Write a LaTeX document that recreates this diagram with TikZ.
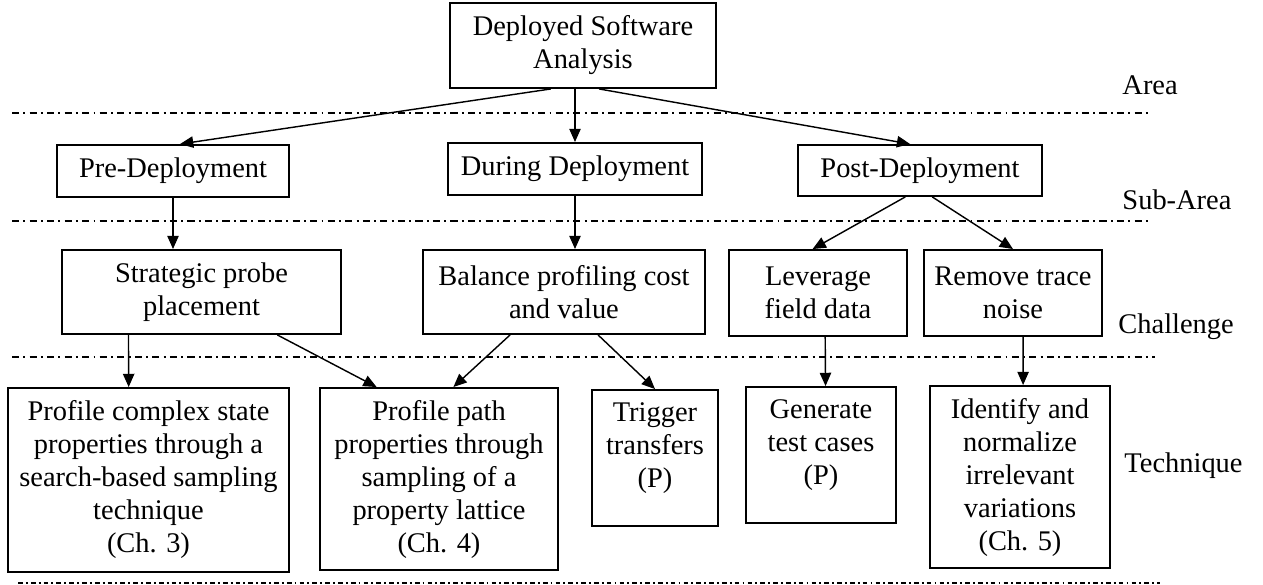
\documentclass[tikz,border=0pt]{standalone}
\usepackage{fontspec}
\setmainfont{Liberation Serif}
\usetikzlibrary{arrows.meta, calc}
\tikzset{
  boxsize/.style 2 args={minimum width=#1*0.4219pt, minimum height=#2*0.4219pt},
  box/.style={rectangle, draw, line width=0.8pt, align=center, inner sep=0pt,
              font=\fontsize{12}{13.9}\selectfont},
  techtxt/.style={anchor=north, align=center, inner sep=4pt, yshift=-1.5pt,
                  font=\fontsize{12}{13.9}\selectfont},
  tier/.style={anchor=west, inner sep=0pt, font=\fontsize{12}{13.9}\selectfont},
  conn/.style={-{Triangle[length=5.6pt,width=4.8pt]}, line width=0.6pt},
  level/.style={line width=0.65pt, dash pattern=on 3pt off 1.8pt on 0.8pt off 1.8pt},
  levelend/.style={line width=0.65pt, dash pattern=on 2pt off 1.3pt on 0.8pt off 1.3pt},
}
\begin{document}
\begin{tikzpicture}[x=0.4219pt, y=-0.4219pt]
  \useasboundingbox (0,0) rectangle (1263,585);

  % level separators
  \draw[level]    (12,113) -- (1150,113);
  \draw[level]    (12,221) -- (1150,221);
  \draw[level]    (12,357) -- (1155,357);
  \draw[levelend] (18,583) -- (1160,583);

  % tier names
  \node[tier] (area)  at (1122,85)  {Area};
  \node[tier] (sub)   at (1122,200) {Sub-Area};
  \node[tier] (chal)  at (1118,327) {Challenge};
  \node[tier] (tech)  at (1124,466) {Technique};

  % area
  \node[box, boxsize={266}{85}] (top) at (583,45.5) {Deployed Software\\Analysis};

  % sub-areas
  \node[box, boxsize={232}{52}] (pre)    at (173,171)   {Pre-Deployment};
  \node[box, boxsize={254}{52}] (during) at (575,169)   {During Deployment};
  \node[box, boxsize={244}{51}] (post)   at (920,170.5) {Post-Deployment};

  % challenges
  \node[box, boxsize={279}{84}] (probe) at (201.5,292) {Strategic probe\\placement};
  \node[box, boxsize={282}{84}] (cost)  at (564,292)   {Balance profiling cost\\and value};
  \node[box, boxsize={178}{86}] (field) at (818,293)   {Leverage\\field data};
  \node[box, boxsize={178}{86}] (noise) at (1013,293)  {Remove trace\\noise};

  % techniques
  \node[box, boxsize={281}{184}, label={[techtxt]north:{Profile complex state\\properties through a\\search-based sampling\\technique\\(Ch. 3)}}] (state) at (148.5,480) {};
  \node[box, boxsize={238}{182}, label={[techtxt]north:{Profile path\\properties through\\sampling of a\\property lattice\\(Ch. 4)}}] (path) at (439,479) {};
  \node[box, boxsize={126}{136}, label={[techtxt]north:{Trigger\\transfers\\(P)}}] (trig) at (655,458) {};
  \node[box, boxsize={150}{136}, label={[techtxt]north:{Generate\\test cases\\(P)}}] (gen) at (821,455) {};
  \node[box, boxsize={180}{182}, label={[techtxt]north:{Identify and\\normalize\\irrelevant\\variations\\(Ch. 5)}}] (ident) at (1020,477) {};

  % area -> sub-areas
  \draw[conn] ($(top.south west)!0.38!(top.south east)$) -- ($(pre.north west)!0.53!(pre.north east)$);
  \draw[conn] (top.south -| during.north) -- (during.north);
  \draw[conn] ($(top.south west)!0.56!(top.south east)$) -- ($(post.north west)!0.46!(post.north east)$);

  % sub-areas -> challenges
  \draw[conn] (pre.south) -- (pre.south |- probe.north);
  \draw[conn] (during.south) -- (during.south |- cost.north);
  \draw[conn] ($(post.south west)!0.44!(post.south east)$) -- ($(field.north west)!0.47!(field.north east)$);
  \draw[conn] ($(post.south west)!0.55!(post.south east)$) -- (noise.north);

  % challenges -> techniques
  \draw[conn] ($(probe.south west)!0.24!(probe.south east)$) -- ($(state.north west)!0.43!(state.north east)$);
  \draw[conn] ($(probe.south west)!0.77!(probe.south east)$) -- ($(path.north west)!0.24!(path.north east)$);
  \draw[conn] ($(cost.south west)!0.31!(cost.south east)$) -- ($(path.north west)!0.56!(path.north east)$);
  \draw[conn] ($(cost.south west)!0.62!(cost.south east)$) -- (trig.north);
  \draw[conn] ($(field.south west)!0.54!(field.south east)$) -- ($(gen.north west)!0.53!(gen.north east)$);
  \draw[conn] ($(noise.south west)!0.556!(noise.south east)$) -- ($(ident.north west)!0.517!(ident.north east)$);

\end{tikzpicture}
\end{document}
